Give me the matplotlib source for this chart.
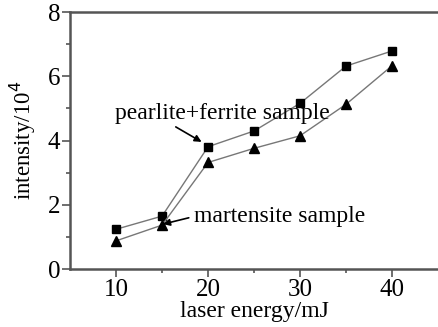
import matplotlib.pyplot as plt
import numpy as np

plt.rcParams['font.family'] = ['Liberation Serif', 'DejaVu Serif']

energy = [10, 15, 20, 25, 30, 35, 40]
pearlite = [1.24, 1.65, 3.81, 4.30, 5.16, 6.32, 6.79]
martensite = [0.88, 1.37, 3.32, 3.76, 4.15, 5.13, 6.33]

fig = plt.figure(figsize=(4.38, 3.27), dpi=100)
ax = fig.add_axes([0.160, 0.177, 0.84, 0.786])

ax.plot(energy, pearlite, color='#777777', lw=1, marker='s', ms=6,
        mfc='black', mec='black', zorder=3)
ax.plot(energy, martensite, color='#777777', lw=1, marker='^', ms=7,
        mfc='black', mec='black', zorder=3)

ax.set_xlim(5, 45)
ax.set_ylim(0, 8)
ax.set_xticks([10, 20, 30, 40])
ax.set_xticks([15, 25, 35], minor=True)
ax.set_yticks([0, 2, 4, 6, 8])
ax.set_yticks([1, 3, 5, 7], minor=True)

for s in ['left', 'bottom', 'top']:
    ax.spines[s].set_color('#555555')
    ax.spines[s].set_linewidth(1.8)
ax.spines['right'].set_visible(False)
ax.tick_params(which='both', direction='out', color='#555555', labelsize=18, pad=1)
ax.tick_params(which='major', length=6, width=1.2)
ax.tick_params(which='minor', length=3, width=1.2)

ax.set_xlabel('laser energy/mJ', fontsize=17, labelpad=0)
ax.set_ylabel('intensity/10$^4$', fontsize=16.5, labelpad=7)

ax.annotate('pearlite+ferrite sample', xy=(19.3, 3.96), xytext=(9.9, 4.84),
            fontsize=17, va='center', ha='left',
            arrowprops=dict(arrowstyle='-|>', color='black', lw=1.2,
                            shrinkA=0, shrinkB=0, mutation_scale=10,
                            relpos=(0.26, 0.0)))
ax.annotate('martensite sample', xy=(15.1, 1.40), xytext=(18.5, 1.64),
            fontsize=17, va='center', ha='left',
            arrowprops=dict(arrowstyle='-|>', color='black', lw=1.2,
                            shrinkA=2, shrinkB=0, mutation_scale=10,
                            relpos=(0.0, 0.5)))

fig.savefig('out.png', dpi=100)
